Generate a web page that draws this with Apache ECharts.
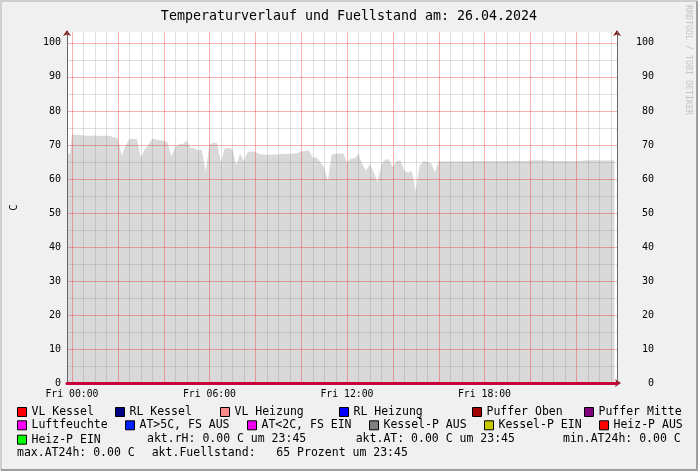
<!DOCTYPE html>
<html><head><meta charset="utf-8">
<script src="https://cdn.jsdelivr.net/npm/echarts@6/dist/echarts.min.js"></script>
<style>html,body{margin:0;padding:0;background:#f0f0f0}#c{width:698px;height:471px}</style>
</head><body><div id="c"></div>
<script>
// ---------- data ----------
const chartTitle = 'Temperaturverlauf und Fuellstand am: 26.04.2024';
const yAxisName = 'C';
// minutes relative to Fri 00:00
const fuellTimes = [-13, -5, 0, 10, 20, 30, 40, 50, 60, 70, 80, 90, 100, 110, 120, 130, 140, 150, 160, 170,
  180, 190, 200, 210, 220, 230, 240, 250, 260, 270, 280, 290, 300, 310, 320, 330, 340, 350, 360, 370,
  380, 390, 400, 410, 420, 430, 440, 450, 460, 470, 480, 490, 500, 510, 520, 530, 540, 550, 560, 570,
  580, 590, 600, 610, 620, 630, 640, 650, 660, 670, 680, 690, 700, 710, 720, 730, 740, 750, 760, 770,
  780, 790, 800, 810, 820, 830, 840, 850, 860, 870, 880, 890, 900, 910, 920, 930, 940, 950, 960, 970,
  980, 990, 1000, 1010, 1020, 1030, 1040, 1050, 1060, 1070, 1080, 1090, 1100, 1110, 1120, 1130, 1140, 1150, 1160, 1170,
  1180, 1190, 1200, 1210, 1220, 1230, 1240, 1250, 1260, 1270, 1280, 1290, 1300, 1310, 1320, 1330, 1340, 1350, 1360, 1370,
  1380, 1390, 1400, 1410, 1420];
const fuellValues = [67.3, 67.5, 73.1, 73.0, 72.9, 72.8, 72.7, 72.7, 72.8, 72.7, 72.7, 72.7, 72.6, 72.2, 72.1, 66.8, 69.6, 71.7, 71.8, 71.7,
  66.3, 68.6, 70.0, 71.8, 71.6, 71.4, 71.2, 70.8, 66.6, 69.3, 70.2, 70.3, 71.3, 69.2, 69.0, 68.4, 68.6, 62.2, 70.0, 70.7,
  70.5, 64.8, 69.0, 69.1, 68.8, 64.0, 67.4, 65.2, 67.9, 68.1, 68.0, 67.3, 67.2, 67.1, 67.1, 67.2, 67.2, 67.3, 67.4, 67.3,
  67.5, 67.6, 68.1, 68.2, 68.4, 66.2, 66.4, 65.0, 63.4, 59.5, 67.2, 67.3, 67.5, 67.5, 64.8, 66.0, 66.0, 67.3, 64.3, 62.5,
  64.3, 62.0, 59.0, 64.3, 65.7, 65.7, 63.5, 65.3, 65.4, 62.3, 62.0, 62.3, 56.3, 63.8, 65.3, 65.0, 64.6, 62.0, 65.2, 65.1,
  65.1, 65.2, 65.1, 65.1, 65.2, 65.1, 65.1, 65.2, 65.2, 65.3, 65.2, 65.2, 65.3, 65.2, 65.2, 65.3, 65.2, 65.3, 65.4, 65.3,
  65.3, 65.2, 65.4, 65.5, 65.5, 65.4, 65.5, 65.3, 65.3, 65.2, 65.3, 65.3, 65.3, 65.2, 65.3, 65.3, 65.4, 65.5, 65.4, 65.5,
  65.5, 65.4, 65.4, 65.5, 65.4];
const tempSeriesNames = ['VL Kessel', 'RL Kessel', 'VL Heizung', 'RL Heizung', 'Puffer Oben', 'Puffer Mitte',
  'Luftfeuchte', 'AT>5C, FS AUS', 'AT<2C, FS EIN', 'Kessel-P AUS', 'Kessel-P EIN', 'Heiz-P AUS', 'Heiz-P EIN'];
const tempTimes = [-13, 1420];
const tempValues = [0, 0];
const xTickMinutes = [0, 360, 720, 1080];
const xTickLabels = ['Fri 00:00', 'Fri 06:00', 'Fri 12:00', 'Fri 18:00'];
const yTickLabels = [0, 10, 20, 30, 40, 50, 60, 70, 80, 90, 100];
const infoRow3 = ['akt.rH: 0.00 C um 23:45', 'akt.AT: 0.00 C um 23:45', 'min.AT24h: 0.00 C'];
const infoRow4 = ['max.AT24h: 0.00 C', 'akt.Fuellstand:   65 Prozent um 23:45'];
const watermark = 'RRDTOOL / TOBI OETIKER';

// ---------- styles / layout ----------
const tempColors = ['#ff0000', '#000080', '#ff8a8a', '#0000ff', '#a00000', '#800080',
  '#ff00ff', '#0020ff', '#ee00ee', '#808080', '#c8c800', '#ff0000', '#00ff00'];
const legendPos = [[17, 406], [115, 406], [220, 406], [339, 406], [472, 406], [584, 406],
  [17, 419.3], [125, 419.3], [247, 419.3], [369, 419.3], [484, 419.3], [599, 419.3], [17, 433.7]];
const row3X = [147, 355.7, 563], row3Y = 439.5;
const row4X = [17, 151.7], row4Y = 452.7;
const MONO = 'DejaVu Sans Mono';
const xMin = -13, xMax = 1427, yMin = 0, yMax = 103.2;
const xMinor = [], xMajor = [], yMinor = [], yMajor = [];
for (let m = 0; m <= 1410; m += 30) (m % 120 === 0 ? xMajor : xMinor).push(m);
for (let v = 5; v <= 100; v += 5) (v % 10 === 0 ? yMajor : yMinor).push(v);

const minorColor = 'rgba(128,128,128,0.25)';
const majorColor = 'rgba(235,30,30,0.35)';
const arrowColor = '#8b1a1a';

function gridLines(name, dir, values, color) {
  return {
    name: name, type: 'custom', xAxisIndex: 0, yAxisIndex: 0, z: 3, silent: true, clip: false,
    data: values.map(v => [v]),
    renderItem: function (params, api) {
      const v = api.value(0);
      if (dir === 'v') {
        const p1 = api.coord([v, yMin]), p2 = api.coord([v, yMax]);
        const x = Math.round(p1[0]) + 0.5;
        return { type: 'line', shape: { x1: x, y1: p1[1], x2: x, y2: p2[1] }, style: { stroke: color, lineWidth: 1 } };
      }
      const p1 = api.coord([xMin, v]), p2 = api.coord([xMax, v]);
      const y = Math.round(p1[1]) + 0.5;
      return { type: 'line', shape: { x1: p1[0], y1: y, x2: p2[0], y2: y }, style: { stroke: color, lineWidth: 1 } };
    }
  };
}

const series = [{
  name: 'Fuellstand', type: 'line', xAxisIndex: 0, yAxisIndex: 0,
  data: fuellTimes.map((t, i) => [t, fuellValues[i]]),
  symbol: 'none', lineStyle: { width: 0 }, areaStyle: { color: '#d9d9d9', opacity: 1 },
  itemStyle: { color: '#d9d9d9' }, z: 2, silent: true
},
  gridLines('gridXMinor', 'v', xMinor, minorColor),
  gridLines('gridYMinor', 'h', yMinor, minorColor),
  gridLines('gridXMajor', 'v', xMajor, majorColor),
  gridLines('gridYMajor', 'h', yMajor, majorColor)
];
tempSeriesNames.forEach((n, i) => series.push({
  name: n, type: 'line', xAxisIndex: 0, yAxisIndex: 0,
  data: tempTimes.map((t, j) => [t, tempValues[j]]),
  symbol: 'none', lineStyle: { color: tempColors[i], width: 2 }, itemStyle: { color: tempColors[i] }, z: 4
}));

const legends = tempSeriesNames.map((n, i) => ({
  data: [n], left: legendPos[i][0], top: legendPos[i][1], padding: 0, itemGap: 0,
  itemWidth: 9, itemHeight: 9, icon: 'rect', selectedMode: false,
  itemStyle: { borderColor: '#000', borderWidth: 1 },
  textStyle: { fontFamily: MONO, fontSize: 11.5, color: '#000' }
}));

const hidden = { show: false };
const baseX = { type: 'value', min: xMin, max: xMax, position: 'bottom', splitLine: hidden, axisTick: hidden };
const baseY = { type: 'value', min: yMin, max: yMax, splitLine: hidden, axisTick: hidden };

const graphic = [
  { type: 'polyline', shape: { points: [[1, 470], [1, 1], [697, 1]] }, style: { stroke: '#cfcfcf', lineWidth: 2, fill: null }, silent: true },
  { type: 'polyline', shape: { points: [[1, 470], [697, 470], [697, 1]] }, style: { stroke: '#9f9f9f', lineWidth: 2, fill: null }, silent: true },
  { type: 'text', x: 688, y: 5, rotation: -Math.PI / 2, silent: true,
    style: { text: watermark, fontFamily: MONO, fontSize: 8.3, fill: '#c4c4c4', align: 'left', verticalAlign: 'middle' } }
];
infoRow3.forEach((t, i) => graphic.push({ type: 'text', x: row3X[i], y: row3Y, silent: true,
  style: { text: t, fontFamily: MONO, fontSize: 11.5, fill: '#000', verticalAlign: 'middle' } }));
infoRow4.forEach((t, i) => graphic.push({ type: 'text', x: row4X[i], y: row4Y, silent: true,
  style: { text: t, fontFamily: MONO, fontSize: 11.5, fill: '#000', verticalAlign: 'middle' } }));

const option = {
  animation: false,
  backgroundColor: '#f0f0f0',
  title: { text: chartTitle, left: 'center', top: 10, padding: 0,
    textStyle: { fontFamily: MONO, fontSize: 13.3, fontWeight: 'normal', color: '#000' } },
  grid: { left: 67, right: 81, top: 32, bottom: 88, show: true, backgroundColor: '#ffffff', borderWidth: 0,
    containLabel: false, outerBoundsMode: 'none' },
  legend: legends,
  xAxis: [
    Object.assign({}, baseX, { z: 3, axisLine: hidden,
      axisLabel: { customValues: xTickMinutes, formatter: v => xTickLabels[xTickMinutes.indexOf(v)],
        margin: 6, fontFamily: MONO, fontSize: 9.8, color: '#000' } }),
    Object.assign({}, baseX, { z: 2, axisLabel: hidden,
      axisLine: { show: true, onZero: false, symbol: ['none', 'arrow'], symbolSize: [6, 6], symbolOffset: [0, 4],
        lineStyle: { color: arrowColor, width: 1 } } }),
    Object.assign({}, baseX, { z: 5, axisLabel: hidden,
      axisLine: { show: true, onZero: false, lineStyle: { color: '#c8003a', width: 3 } } })
  ],
  yAxis: [
    Object.assign({}, baseY, { position: 'left', z: 3,
      name: yAxisName, nameLocation: 'middle', nameGap: 47, nameRotate: 90,
      nameTextStyle: { fontFamily: MONO, fontSize: 10.5, color: '#000' },
      axisLine: { show: true, onZero: false, lineStyle: { color: '#666', width: 1 } },
      axisLabel: { customValues: yTickLabels, margin: 6, fontFamily: MONO, fontSize: 10, color: '#000' } }),
    Object.assign({}, baseY, { position: 'right', z: 3,
      axisLine: { show: true, onZero: false, lineStyle: { color: '#666', width: 1 } },
      axisLabel: { customValues: yTickLabels, margin: 37, align: 'right', fontFamily: MONO, fontSize: 10, color: '#000' } }),
    Object.assign({}, baseY, { position: 'left', z: 2, axisLabel: hidden,
      axisLine: { show: true, onZero: false, symbol: ['none', 'arrow'], symbolSize: [6, 6], symbolOffset: [0, 2],
        lineStyle: { color: arrowColor, width: 1 } } }),
    Object.assign({}, baseY, { position: 'right', z: 2, axisLabel: hidden,
      axisLine: { show: true, onZero: false, symbol: ['none', 'arrow'], symbolSize: [6, 6], symbolOffset: [0, 2],
        lineStyle: { color: arrowColor, width: 1 } } })
  ],
  series: series,
  graphic: graphic
};
const chart = echarts.init(document.getElementById('c'), null, { renderer: 'canvas' });
chart.setOption(option);
</script></body></html>
